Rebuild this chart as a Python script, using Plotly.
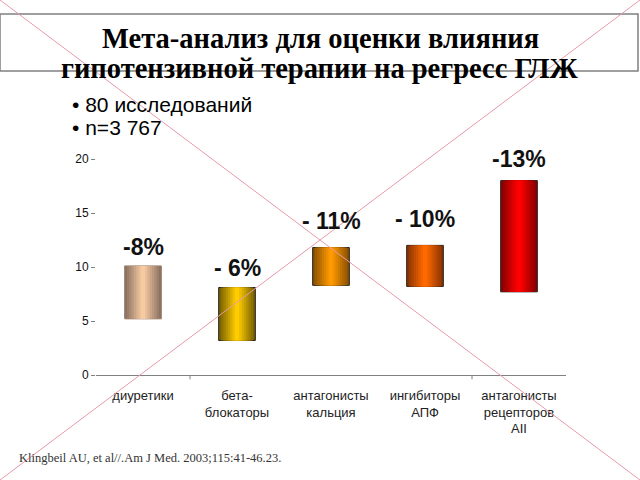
import plotly.graph_objects as go

# data
categories = ["диуретики", "бета-<br>блокаторы", "антагонисты<br>кальция",
              "ингибиторы<br>АПФ", "антагонисты<br>рецепторов<br>AII"]
bar_low = [5.2, 3.2, 8.3, 8.2, 7.7]
bar_high = [10.1, 8.1, 11.8, 12.0, 18.0]
reduction_labels = ["-8%", "- 6%", "- 11%", "- 10%", "-13%"]
y_ticks = [0, 5, 10, 15, 20]

title_lines = ["Мета-анализ для оценки влияния", "гипотензивной терапии на регресс ГЛЖ"]
bullets = ["• 80 исследований", "• n=3 767"]
source = "Klingbeil AU, et al//.Am J Med. 2003;115:41-46.23."

# styling
edge_colors = ["#8c7262", "#7a6200", "#8c5200", "#8c3400", "#8a0000"]
center_colors = ["#f7cba2", "#ffcc00", "#ff9900", "#ff6a00", "#ff0000"]
outline_colors = ["#9a7e6a", "#222222", "#222222", "#222222", "#222222"]
label_shift = [4, 5, 12, 11, 7]

W, H = 640, 480
L, R, T, B = 96, 566, 159, 375  # plot area in pixels


def px(x, y):
    # pixel -> paper coords
    return (x - L) / (R - L), (B - y) / (B - T)


def mix(c1, c2, t):
    a = [int(c1[i:i + 2], 16) for i in (1, 3, 5)]
    b = [int(c2[i:i + 2], 16) for i in (1, 3, 5)]
    return "#" + "".join("%02x" % round(a[k] + (b[k] - a[k]) * t) for k in range(3))


heights = [h - l for h, l in zip(bar_high, bar_low)]
bar_w = 0.39
n_layers = 8

traces = []
for k in range(n_layers):
    t = k / (n_layers - 1)
    w = bar_w * (1 - k / n_layers)
    traces.append(go.Bar(
        x=categories, y=heights, base=bar_low, width=w,
        marker=dict(color=[mix(e, c, t) for e, c in zip(edge_colors, center_colors)],
                    line=dict(color=outline_colors if k == 0 else "rgba(0,0,0,0)",
                              width=1 if k == 0 else 0)),
        hoverinfo="skip" if k else "y", showlegend=False))

fig = go.Figure(data=traces)

annotations = []
for cat, top, lab, sh in zip(categories, bar_high, reduction_labels, label_shift):
    annotations.append(dict(x=cat, y=top, xref="x", yref="y", text=lab, showarrow=False,
                            yanchor="bottom", yshift=sh,
                            font=dict(family="Liberation Sans", size=23, weight="bold",
                                      color="#111111")))

# title
for i, line in enumerate(title_lines):
    x, y = px(320, [38, 69][i])
    annotations.append(dict(x=x, y=y, xref="paper", yref="paper", text=line,
                            showarrow=False, xanchor="center", yanchor="middle",
                            font=dict(family="Liberation Serif", size=28.5, weight="bold",
                                      color="#000000")))
# bullets
for i, line in enumerate(bullets):
    x, y = px(70, [104, 128][i])
    annotations.append(dict(x=x, y=y, xref="paper", yref="paper", text=line,
                            showarrow=False, xanchor="left", yanchor="middle",
                            font=dict(family="Liberation Sans", size=21, color="#000000")))
# source
x, y = px(17, 458)
annotations.append(dict(x=x, y=y, xref="paper", yref="paper", text=source,
                        showarrow=False, xanchor="left", yanchor="middle",
                        font=dict(family="Liberation Serif", size=12.5, color="#333333")))

shapes = []
# title box
x0, y0 = px(0, 71)
x1, y1 = px(638, 14)
shapes.append(dict(type="rect", xref="paper", yref="paper", x0=x0, y0=y0, x1=x1, y1=y1,
                   line=dict(color="#808080", width=1.5), layer="above"))
# a couple of category tick marks as on the slide
for xb in (0.5, 3.5):
    shapes.append(dict(type="line", xref="x", yref="paper", x0=xb, x1=xb, y0=0, y1=-0.02,
                       line=dict(color="#808080", width=1)))
# crossed-out slide
for a, b in (((0, 0), (W, H)), ((W, 0), (0, H))):
    xa, ya = px(*a)
    xb, yb = px(*b)
    shapes.append(dict(type="line", xref="paper", yref="paper", x0=xa, y0=ya, x1=xb, y1=yb,
                       line=dict(color="#e89aa6", width=1), layer="above"))

fig.update_layout(
    width=W, height=H,
    margin=dict(l=L, r=W - R, t=T, b=H - B),
    barmode="overlay",
    plot_bgcolor="white", paper_bgcolor="white",
    font=dict(family="Liberation Sans", color="#111111"),
    annotations=annotations, shapes=shapes,
    xaxis=dict(showline=True, linecolor="#808080", linewidth=1, ticks="",
               tickfont=dict(size=13, color="#222222"), ticklabelstandoff=8,
               showgrid=False, fixedrange=True),
    yaxis=dict(range=[0, 20], tickvals=y_ticks, ticks="outside", ticklen=4, tickcolor="#808080",
               showline=False, showgrid=False, zeroline=False,
               tickfont=dict(size=12, color="#111111"), fixedrange=True),
)

# page body has an 8px margin by default; drop it so the figure sits at 0,0
fig.write_html("out.html", config={"displayModeBar": False},
               post_script="document.body.style.margin='0';")
